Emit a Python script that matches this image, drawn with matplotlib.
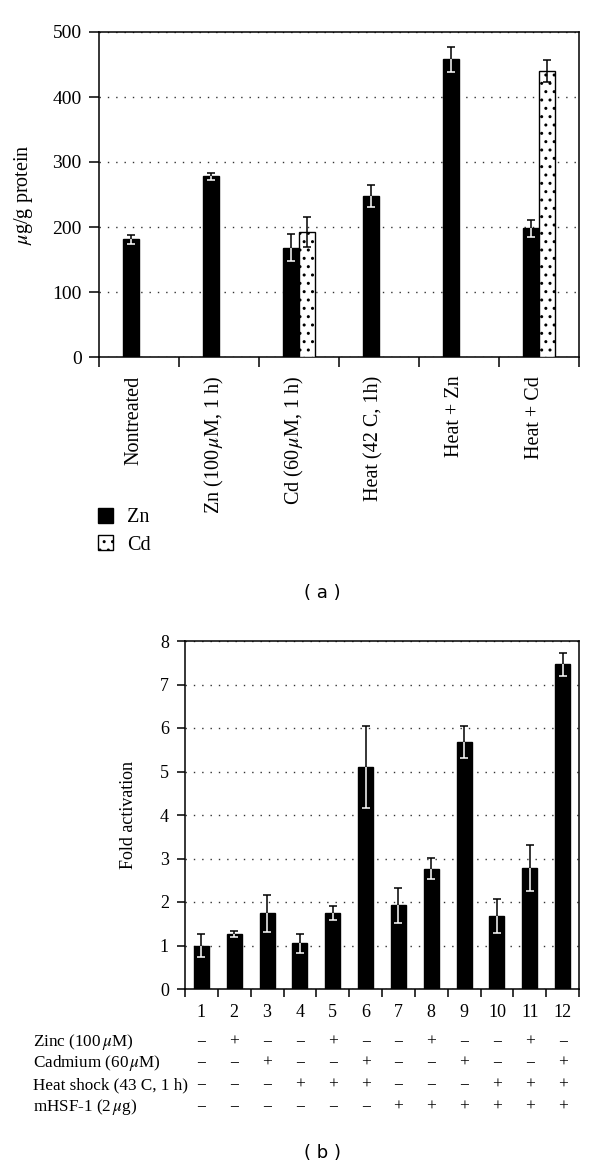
import matplotlib
matplotlib.use("Agg")
import matplotlib.pyplot as plt
from matplotlib.patches import Patch
from matplotlib.ticker import FixedLocator, NullFormatter
import matplotlib.transforms as mtransforms
import numpy as np

plt.rcParams['font.family'] = ['Liberation Serif', 'DejaVu Serif']
plt.rcParams['mathtext.fontset'] = 'stix'
plt.rcParams['hatch.linewidth'] = 1.0

# ---------------- data: panel (a) ----------------
a_categories = ["Nontreated", "Zn (100$\\,\\mu$M, 1 h)", "Cd (60$\\,\\mu$M, 1 h)",
                "Heat (42 C, 1h)", "Heat + Zn", "Heat + Cd"]
a_zn = [181, 278, 168, 248, 458, 198]
a_zn_err = [7, 5, 21, 17, 19, 13]
a_cd_idx = [2, 5]
a_cd = [193, 440]
a_cd_err = [23, 17]
a_yticks = [0, 100, 200, 300, 400, 500]

# ---------------- data: panel (b) ----------------
b_lanes = [str(i) for i in range(1, 13)]
b_fold = [1.00, 1.26, 1.74, 1.05, 1.74, 5.10, 1.92, 2.77, 5.68, 1.68, 2.79, 7.46]
b_err = [0.26, 0.07, 0.42, 0.22, 0.16, 0.95, 0.40, 0.25, 0.37, 0.40, 0.53, 0.26]
b_yticks = [0, 1, 2, 3, 4, 5, 6, 7, 8]
b_rows = ["Zinc (100$\\,\\mu$M)", "Cadmium (60$\\,\\mu$M)",
          "Heat shock (43 C, 1 h)", "mHSF-1 (2$\\,\\mu$g)"]
b_zinc = "-+--+--+--+-"
b_cadmium = "--+--+--+--+"
b_heat = "---+++---+++"
b_hsf = "------++++++"

W, H = 600, 1169
fig = plt.figure(figsize=(W / 100, H / 100), dpi=100)


def fx(px):
    return px / W


def fy(py):
    return 1 - py / H


def white_inside_errorbars(ax, bars, xs, ys, es, capsize):
    ax.errorbar(xs, ys, yerr=es, fmt='none', ecolor='black', elinewidth=1.1,
                capsize=capsize, capthick=1.1, zorder=4)
    for b, x, y, e in zip(bars, xs, ys, es):
        eb = ax.errorbar([x], [y], yerr=[e], fmt='none', ecolor='white',
                         elinewidth=1.1, capsize=capsize, capthick=1.1, zorder=5)
        for art in list(eb.lines[1]) + list(eb.lines[2]):
            art.set_clip_path(b)


def style_axes(ax):
    for s in ax.spines.values():
        s.set_linewidth(1.1)
    ax.set_axisbelow(True)
    ax.yaxis.grid(True, linestyle=(0, (1, 5)), color='#333333', linewidth=1.0)
    ax.xaxis.grid(False)


# ================= panel (a) =================
axa = fig.add_axes([fx(99), fy(357), fx(579) - fx(99), fy(32) - fy(357)])
style_axes(axa)
n = len(a_categories)
xa = np.arange(n)
bw = 0.2
zn_bars = axa.bar(xa - bw / 2, a_zn, width=bw, color='black', edgecolor='black',
                  linewidth=1.0, zorder=3)
white_inside_errorbars(axa, zn_bars, xa - bw / 2, a_zn, a_zn_err, 3)
xcd = np.array(a_cd_idx) + bw / 2
axa.bar(xcd, a_cd, width=bw, color='white', edgecolor='black', hatch='..',
        linewidth=1.0, zorder=3)
axa.errorbar(xcd, a_cd, yerr=a_cd_err, fmt='none', ecolor='black', elinewidth=1.1,
             capsize=3, capthick=1.1, zorder=4)

axa.set_xlim(-0.5, n - 0.5)
axa.set_ylim(0, 500)
axa.set_yticks(a_yticks)
axa.set_yticklabels([str(v) for v in a_yticks])
axa.tick_params(axis='y', direction='out', length=7, width=1.1, pad=5.5, labelsize=14)
axa.xaxis.set_major_locator(FixedLocator(np.arange(-0.5, n, 1.0)))
axa.xaxis.set_major_formatter(NullFormatter())
axa.xaxis.set_minor_locator(FixedLocator(xa - 0.06))
axa.set_xticklabels(a_categories, minor=True, rotation=90, va='top', ha='center')
axa.tick_params(axis='x', which='major', direction='out', length=7, width=1.1)
axa.tick_params(axis='x', which='minor', length=0, pad=13.5, labelsize=14.5)
axa.set_ylabel("$\\mu$g/g protein", fontsize=14.5)
axa.yaxis.set_label_coords((35 - 99) / 480, 0.5)

handles = [Patch(facecolor='black', edgecolor='black', label='Zn'),
           Patch(facecolor='white', edgecolor='black', hatch='..', label='Cd')]
fig.legend(handles=handles, loc='upper left', bbox_to_anchor=(fx(98), fy(508)),
           frameon=False, fontsize=14.5, handlelength=0.75, handleheight=0.75,
           handletextpad=0.7, labelspacing=0.4, borderpad=0, borderaxespad=0)

fig.text(fx(322), fy(593), "( a )", family='DejaVu Sans', fontsize=13,
         ha='center', va='center')

# ================= panel (b) =================
axb = fig.add_axes([fx(185), fy(989), fx(579) - fx(185), fy(641) - fy(989)])
style_axes(axb)
m = len(b_lanes)
xb = np.arange(m)
bbars = axb.bar(xb, b_fold, width=0.46, color='black', edgecolor='black',
                linewidth=1.0, zorder=3)
white_inside_errorbars(axb, bbars, xb, b_fold, b_err, 3)
axb.set_xlim(-0.5, m - 0.5)
axb.set_ylim(0, 8)
axb.set_yticks(b_yticks)
axb.set_yticklabels([str(v) for v in b_yticks])
axb.tick_params(axis='y', direction='out', length=5.5, width=1.1, pad=6, labelsize=13)
axb.xaxis.set_major_locator(FixedLocator(np.arange(-0.5, m, 1.0)))
axb.xaxis.set_major_formatter(NullFormatter())
axb.xaxis.set_minor_locator(FixedLocator(xb))
axb.set_xticklabels(b_lanes, minor=True)
axb.tick_params(axis='x', which='minor', length=0, pad=11, labelsize=13)
axb.tick_params(axis='x', which='major', direction='out', length=6, width=1.1)
axb.set_ylabel("Fold activation", fontsize=13)
axb.yaxis.set_label_coords((137 - 185) / 394, 0.5)

# condition table under panel (b)
trans = mtransforms.blended_transform_factory(axb.transData, fig.transFigure)
row_y = [1042, 1063, 1085, 1107]
row_signs = [b_zinc, b_cadmium, b_heat, b_hsf]
for label, yy, signs in zip(b_rows, row_y, row_signs):
    fig.text(fx(33), fy(yy), label, fontsize=12.3, ha='left', va='center')
    for i, s in enumerate(signs):
        sym = '+' if s == '+' else '\u2212'
        axb.text(xb[i], fy(yy), sym, transform=trans, fontsize=12.5,
                 ha='center', va='center', clip_on=False)

fig.text(fx(323), fy(1153), "( b )", family='DejaVu Sans', fontsize=13,
         ha='center', va='center')

fig.savefig("out.png", dpi=100, facecolor='white')
